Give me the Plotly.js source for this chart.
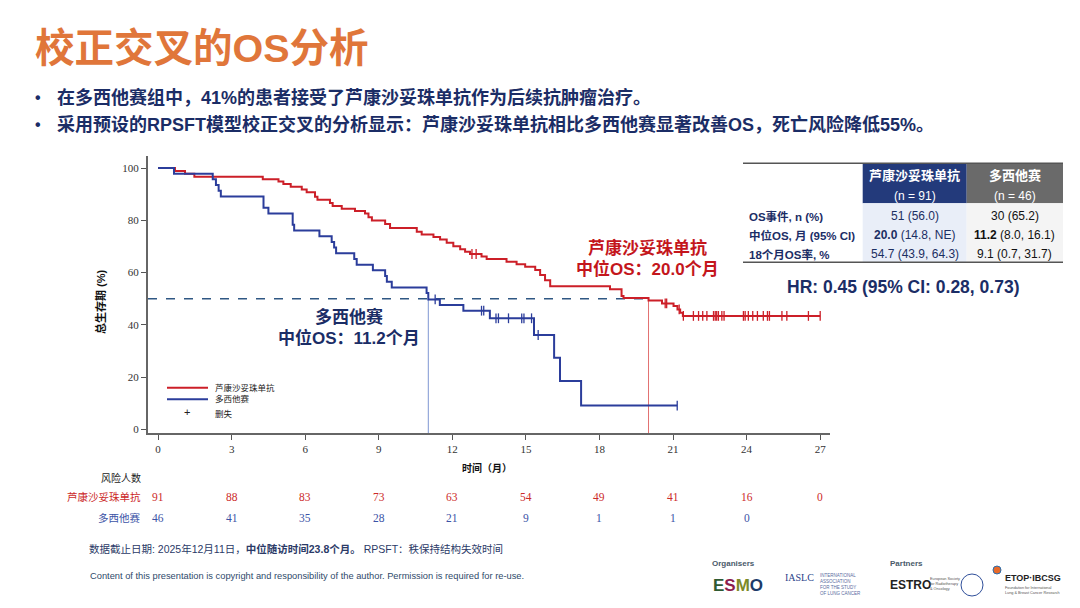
<!DOCTYPE html>
<html>
<head>
<meta charset="utf-8">
<script src="https://cdn.plot.ly/plotly-3.0.1.min.js"></script>
<style>html,body{margin:0;padding:0;background:#fff;}#chart{width:1080px;height:608px;}</style>
</head>
<body>
<div id="chart"></div>
<script>
// ---------- DATA ----------
const seriesNames = ["芦康沙妥珠单抗", "多西他赛"];
// Kaplan-Meier step points (month, OS %)
const redTime = [0, 0.69, 1.1, 1.48, 4.27, 4.91, 5.11, 5.41, 5.86, 6.06, 6.4, 6.5, 7.01, 7.12, 7.49, 8.03, 8.44, 8.58, 8.72, 9.26, 9.46, 10.55, 10.75, 11.23, 11.5, 11.77, 12.04, 12.32, 12.52, 12.72, 13.19, 13.4, 14.21, 14.62, 14.97, 15.38, 15.58, 15.78, 15.99, 18.43, 18.9, 18.98, 20.0, 20.55, 21.02, 21.18, 21.29, 21.4, 27.0];
const redSurv = [100, 98.9, 97.8, 96.7, 95.7, 94.8, 93.9, 92.8, 91.8, 90.7, 89.0, 87.9, 86.6, 85.5, 84.4, 83.6, 82.6, 81.2, 79.9, 78.6, 77.0, 75.6, 74.6, 73.6, 72.6, 71.4, 70.1, 68.9, 68.0, 67.1, 66.1, 65.2, 64.1, 63.2, 62.2, 61.0, 59.1, 57.1, 54.8, 53.6, 51.0, 50.3, 49.3, 48.2, 47.2, 45.9, 44.6, 43.4, 43.4];
const redCensor = [12.8, 12.97, 20.68, 20.74, 21.25, 21.42, 21.83, 22.04, 22.21, 22.38, 22.65, 22.72, 22.78, 22.85, 22.99, 23.08, 23.87, 23.94, 24.07, 24.25, 24.44, 24.68, 24.85, 24.93, 25.44, 25.64, 26.52, 27.0];
const blueTime = [0, 0.65, 2.23, 2.36, 2.47, 2.56, 4.3, 4.5, 5.49, 5.55, 6.58, 7.08, 7.18, 7.26, 8.0, 8.1, 8.76, 9.26, 9.33, 9.53, 10.95, 11.02, 11.49, 12.45, 13.53, 15.33, 16.15, 16.39, 17.25, 21.17];
const blueSurv = [100, 97.8, 95.7, 93.5, 91.3, 89.1, 84.8, 82.6, 78.3, 76.1, 73.9, 71.7, 69.6, 67.4, 65.2, 63.0, 60.9, 58.7, 56.5, 54.3, 52.2, 49.7, 47.6, 45.4, 42.5, 36.1, 27.4, 18.5, 9.1, 9.1];
const blueCensor = [11.3, 13.19, 13.28, 13.78, 13.88, 14.29, 14.83, 14.92, 15.23, 15.5, 21.17];
const medians = [20.0, 11.02];
const xTicks = [0, 3, 6, 9, 12, 15, 18, 21, 24, 27];
const yTicks = [0, 20, 40, 60, 80, 100];
const riskRed = [91, 88, 83, 73, 63, 54, 49, 41, 16, 0];
const riskBlue = [46, 41, 35, 28, 21, 9, 1, 1, 0];
const tableHeaders = ["芦康沙妥珠单抗", "多西他赛"];
const tableN = ["(n = 91)", "(n = 46)"];
const tableRows = ["OS事件, n (%)", "中位OS, 月 (95% CI)", "18个月OS率, %"];
const tableRed = ["51 (56.0)", "<b>20.0</b> (14.8, NE)", "54.7 (43.9, 64.3)"];
const tableBlue = ["30 (65.2)", "<b>11.2</b> (8.0, 16.1)", "9.1 (0.7, 31.7)"];
const hrText = "HR: 0.45 (95% CI: 0.28, 0.73)";

// ---------- STYLE ----------
const RED = "#cc1f28", BLUE = "#2b3d9b", NAVY = "#1b2d66";
const SANS = "Liberation Sans, Noto Sans CJK SC, sans-serif";
const SERIF = "Liberation Serif, DejaVu Serif, serif";
const L = 148, R = 830, T = 156, B = 433;
function fx(p) { return (p - L) / (R - L); }
function fy(p) { return (B - p) / (B - T); }
function survAt(times, surv, t) { let s = surv[0]; for (let i = 0; i < times.length; i++) { if (times[i] <= t) s = surv[i]; } return s; }

const traces = [
  {x: redTime, y: redSurv, mode: "lines", line: {shape: "hv", color: RED, width: 2}, name: seriesNames[0], hoverinfo: "skip"},
  {x: blueTime, y: blueSurv, mode: "lines", line: {shape: "hv", color: BLUE, width: 2}, name: seriesNames[1], hoverinfo: "skip"},
  {x: redCensor, y: redCensor.map(t => survAt(redTime, redSurv, t)), mode: "markers",
   marker: {symbol: "line-ns", size: 7, line: {width: 1.3, color: RED}}, hoverinfo: "skip"},
  {x: blueCensor, y: blueCensor.map(t => survAt(blueTime, blueSurv, t)), mode: "markers",
   marker: {symbol: "line-ns", size: 7, line: {width: 1.3, color: BLUE}}, hoverinfo: "skip"}
];

const shapes = [
  // median reference lines
  {type: "line", xref: "x", yref: "y", x0: -0.41, x1: medians[0], y0: 50, y1: 50, line: {color: "#2f5783", width: 1.5, dash: "dash"}, layer: "below"},
  {type: "line", xref: "x", yref: "y", x0: medians[1], x1: medians[1], y0: -1.4, y1: 50, line: {color: "#7f96d2", width: 1}, layer: "below"},
  {type: "line", xref: "x", yref: "y", x0: medians[0], x1: medians[0], y0: -1.4, y1: 50, line: {color: "#e27070", width: 1}, layer: "below"},
  // legend lines
  {type: "line", xref: "paper", yref: "paper", x0: fx(167), x1: fx(208), y0: fy(387.7), y1: fy(387.7), line: {color: RED, width: 2}},
  {type: "line", xref: "paper", yref: "paper", x0: fx(167), x1: fx(208), y0: fy(399.3), y1: fy(399.3), line: {color: BLUE, width: 2}},
  // table backgrounds
  {type: "rect", xref: "paper", yref: "paper", x0: fx(862.7), x1: fx(966.7), y0: fy(163.3), y1: fy(203.3), fillcolor: "#233a7b", line: {width: 0}},
  {type: "rect", xref: "paper", yref: "paper", x0: fx(966.7), x1: fx(1063), y0: fy(163.3), y1: fy(203.3), fillcolor: "#6a6a6a", line: {width: 0}},
  {type: "rect", xref: "paper", yref: "paper", x0: fx(862.7), x1: fx(966.7), y0: fy(203.3), y1: fy(262.3), fillcolor: "#e9eef8", line: {width: 0}},
  {type: "rect", xref: "paper", yref: "paper", x0: fx(966.7), x1: fx(1063), y0: fy(203.3), y1: fy(262.3), fillcolor: "#f4f4f4", line: {width: 0}},
  {type: "line", xref: "paper", yref: "paper", x0: fx(743), x1: fx(1063), y0: fy(163.3), y1: fy(163.3), line: {color: "#555", width: 1.5}},
  {type: "line", xref: "paper", yref: "paper", x0: fx(743), x1: fx(1063), y0: fy(262.3), y1: fy(262.3), line: {color: "#555", width: 1.5}},
  // partner logo marks
  {type: "circle", xref: "paper", yref: "paper", x0: fx(961), x1: fx(983), y0: fy(574), y1: fy(596), line: {color: "#2f4f9a", width: 1}},
  {type: "circle", xref: "paper", yref: "paper", x0: fx(993), x1: fx(1001), y0: fy(566), y1: fy(574), fillcolor: "#e86a2a", line: {color: "#2a6fb0", width: 1}}
];

const ann = [];
function A(text, x, y, o) {
  ann.push(Object.assign({text: text, xref: "paper", yref: "paper", x: fx(x), y: fy(y), showarrow: false,
    xanchor: "center", yanchor: "middle", font: {family: SANS, size: 12, color: "#000"}}, o || {}));
}
// title & bullets
A("<b>校正交叉的OS分析</b>", 33, 48, {xanchor: "left", font: {family: SANS, size: 39.5, color: "#e0763a"}});
A("<b>•</b>", 38, 98, {font: {family: SANS, size: 16, color: NAVY}});
A("<b>•</b>", 38, 125, {font: {family: SANS, size: 16, color: NAVY}});
A("<b>在多西他赛组中，41%的患者接受了芦康沙妥珠单抗作为后续抗肿瘤治疗。</b>", 55, 98, {xanchor: "left", font: {family: SANS, size: 18, color: NAVY}});
A("<b>采用预设的RPSFT模型校正交叉的分析显示：芦康沙妥珠单抗相比多西他赛显著改善OS，死亡风险降低55%。</b>", 55, 125, {xanchor: "left", font: {family: SANS, size: 18, color: NAVY}});
// axis titles
A("<b>总生存期 (%)</b>", 100, 302, {textangle: -90, font: {family: SANS, size: 11, color: "#111"}});
A("<b>时间（月）</b>", 487, 468, {font: {family: SANS, size: 10, color: "#111"}});
// median callouts
A("<b>芦康沙妥珠单抗</b>", 647, 248, {font: {family: SANS, size: 17, color: "#c4161c"}});
A("<b>中位OS：20.0个月</b>", 647, 269, {font: {family: SANS, size: 17, color: "#c4161c"}});
A("<b>多西他赛</b>", 349, 317, {font: {family: SANS, size: 17, color: NAVY}});
A("<b>中位OS：11.2个月</b>", 349, 338, {font: {family: SANS, size: 17, color: NAVY}});
// legend
A(seriesNames[0], 213, 387.7, {xanchor: "left", font: {family: SANS, size: 8.5, color: "#222"}});
A(seriesNames[1], 213, 399.3, {xanchor: "left", font: {family: SANS, size: 8.5, color: "#222"}});
A("+", 186.7, 411.5, {font: {family: SANS, size: 11, color: "#222"}});
A("删失", 213, 414, {xanchor: "left", font: {family: SANS, size: 8.5, color: "#222"}});
// risk table
A("风险人数", 143, 478, {xanchor: "right", font: {family: SANS, size: 10, color: "#222"}});
A(seriesNames[0], 143, 497, {xanchor: "right", font: {family: SANS, size: 10.5, color: "#cc2a2a"}});
A(seriesNames[1], 143, 518, {xanchor: "right", font: {family: SANS, size: 10.5, color: "#3b53a6"}});
riskRed.forEach((v, i) => ann.push({text: String(v), xref: "x", yref: "paper", x: xTicks[i], y: fy(497), showarrow: false,
  xanchor: "center", yanchor: "middle", font: {family: SERIF, size: 11.5, color: "#cc2a2a"}}));
riskBlue.forEach((v, i) => ann.push({text: String(v), xref: "x", yref: "paper", x: xTicks[i], y: fy(518), showarrow: false,
  xanchor: "center", yanchor: "middle", font: {family: SERIF, size: 11.5, color: "#3b53a6"}}));
// summary table
const colX = [914.7, 1014.8];
tableHeaders.forEach((h, i) => {
  A("<b>" + h + "</b>", colX[i], 175.7, {font: {family: SANS, size: 13, color: "#fff"}});
  A(tableN[i], colX[i], 195.7, {font: {family: SANS, size: 12, color: "#fff"}});
});
const rowY = [216, 235, 254.3];
tableRows.forEach((r, i) => {
  A("<b>" + r + "</b>", 747, rowY[i], {xanchor: "left", font: {family: SANS, size: 11.5, color: NAVY}});
  A(tableRed[i], colX[0], rowY[i], {font: {family: SANS, size: 12, color: "#1c2f63"}});
  A(tableBlue[i], colX[1], rowY[i], {font: {family: SANS, size: 12, color: "#111"}});
});
A("<b>" + hrText + "</b>", 903, 287, {font: {family: SANS, size: 17.5, color: NAVY}});
// footer
A("数据截止日期: 2025年12月11日，<b>中位随访时间23.8个月。</b> RPSFT：秩保持结构失效时间", 87, 549, {xanchor: "left", font: {family: SANS, size: 10.5, color: "#2b3a67"}});
A("Content of this presentation is copyright and responsibility of the author. Permission is required for re-use.", 88, 576, {xanchor: "left", font: {family: SANS, size: 9.3, color: "#2f4a6b"}});
// logos (approximate, as text)
A("<b>Organisers</b>", 710, 563, {xanchor: "left", font: {family: SANS, size: 8, color: "#4a5a6a"}});
A("<b>Partners</b>", 888, 563, {xanchor: "left", font: {family: SANS, size: 8, color: "#4a5a6a"}});
A('<b><span style="color:#2f5a32">E</span><span style="color:#8c1d4c">S</span><span style="color:#7c8a28">M</span><span style="color:#1d3b6a">O</span></b>', 711, 585, {xanchor: "left", font: {family: SANS, size: 17, color: "#1d3b6a"}});
A("IASLC", 783, 577, {xanchor: "left", font: {family: SERIF, size: 10, color: "#2a3f8a"}});
A("INTERNATIONAL<br>ASSOCIATION<br>FOR THE STUDY<br>OF LUNG CANCER", 818, 584, {xanchor: "left", align: "left", font: {family: SANS, size: 4.5, color: "#5a6aa0"}});
A("<b>ESTRO</b>", 888, 585, {xanchor: "left", font: {family: SANS, size: 12, color: "#222"}});
A("European Society<br>for Radiotherapy<br>& Oncology", 928, 584, {xanchor: "left", align: "left", font: {family: SANS, size: 3.8, color: "#555"}});
A("<b>ETOP·IBCSG</b>", 1003, 578, {xanchor: "left", font: {family: SANS, size: 9, color: "#222"}});
A("Foundation for International<br>Lung & Breast Cancer Research", 1003, 590, {xanchor: "left", align: "left", font: {family: SANS, size: 3.8, color: "#555"}});

const layout = {
  width: 1080, height: 608,
  margin: {l: L, r: 1080 - R, t: T, b: 608 - B, pad: 0},
  paper_bgcolor: "#fff", plot_bgcolor: "#fff",
  showlegend: false,
  xaxis: {range: [-0.41, 27.4], tickvals: xTicks, ticks: "outside", ticklen: 5, tickwidth: 1, tickcolor: "#555",
          showline: true, linecolor: "#666", linewidth: 2, showgrid: false, zeroline: false,
          tickfont: {family: SERIF, size: 11, color: "#333"}},
  yaxis: {range: [-1.4, 104.6], tickvals: yTicks, ticks: "outside", ticklen: 5, tickwidth: 1, tickcolor: "#555",
          showline: true, linecolor: "#666", linewidth: 2, showgrid: false, zeroline: false,
          tickfont: {family: SERIF, size: 11, color: "#333"}},
  shapes: shapes,
  annotations: ann
};
Plotly.newPlot("chart", traces, layout, {displayModeBar: false, staticPlot: true});
</script>
</body>
</html>
